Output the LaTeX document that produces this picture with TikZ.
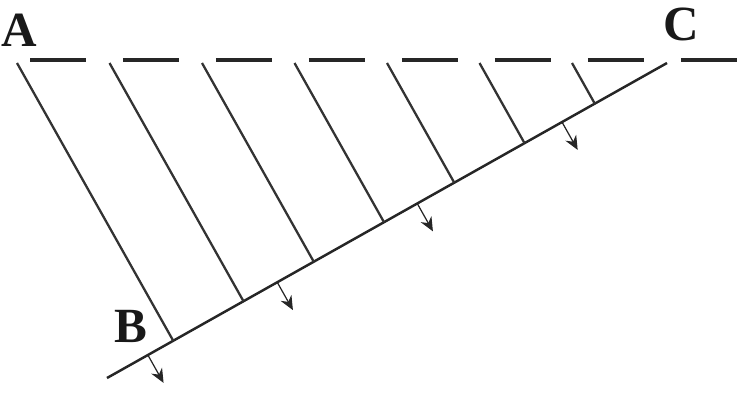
\documentclass[tikz,border=0pt]{standalone}
\usepackage{fontspec}
\setmainfont{Liberation Serif}
\usetikzlibrary{calc,arrows.meta}
\begin{document}
\begin{tikzpicture}[>={Stealth[length=8pt,width=7pt]},x=0.02cm,y=-0.02cm]
  % Configurable parameters
  \def\topy{63}
  \def\arrlen{0.64cm}
  \tikzset{ray/.style={line width=1.3pt,black!80},
    front/.style={line width=1.4pt,black!85},
    letter/.style={font=\fontsize{28}{30}\selectfont\bfseries,black!90}}
  %
  % Frame
  \useasboundingbox (0,0) rectangle (750,400);
  %
  % Points
  \coordinate (dl) at (30,60);
  \coordinate (dr) at (742,60);
  \coordinate (b) at (107,378);
  \coordinate (c) at (667,63);
  %
  % Dashed line
  \draw[line width=1.9pt,black!85,dash pattern=on 1.12cm off 0.74cm] (dl) -- (dr);
  %
  % Front
  \draw[front] (b) -- (c);
  %
  % Rays
  \foreach \x in {17,109.5,202,294.5,387,479.5,572}
    \draw[ray] (\x,\topy) -- ($(b)!(\x,\topy)!(c)$);
  %
  % Small arrows
  \foreach \t in {0.073,0.304,0.554,0.8125}{
    \coordinate (p) at ($(b)!\t!(c)$);
    \draw[->,line width=0.7pt,black!85] (p) -- ($(p)!\arrlen!-90:(c)$);
  }
  %
  % Labels
  \node[letter] (A) at (19,30) {A};
  \node[letter] (B) at (131,326) {B};
  \node[letter] (C) at (681,24) {C};
  %
\end{tikzpicture}
\end{document}
